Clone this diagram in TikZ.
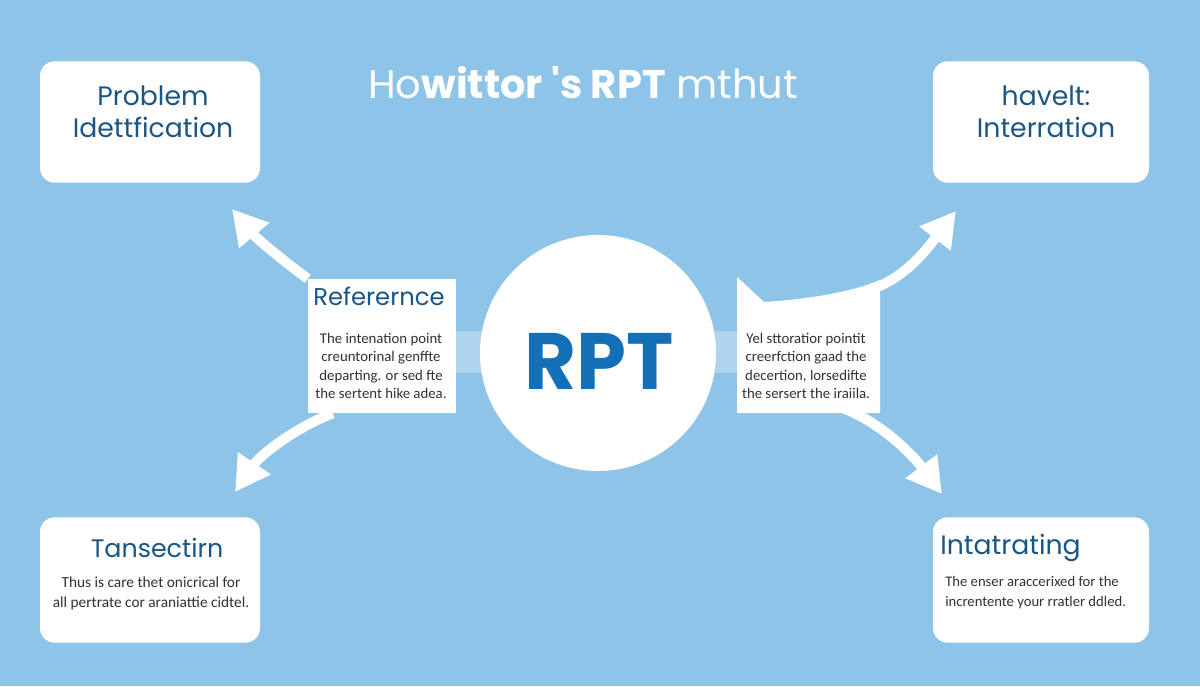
\documentclass[tikz,border=0pt]{standalone}
\usepackage{fontspec}
\setmainfont{Carlito}
\newfontfamily\headfont{Poppins}
\usetikzlibrary{arrows.meta,calc}
\definecolor{skyback}{RGB}{141,196,231}
\definecolor{headblue}{RGB}{25,86,132}
\definecolor{rptblue}{RGB}{20,112,182}
\definecolor{bodygray}{RGB}{45,50,58}
\tikzset{
  cornerbox/.style={fill=white,rounded corners=11pt,minimum width=162pt,minimum height=91pt,inner sep=0pt},
  midbox/.style={fill=white,minimum width=111pt,minimum height=100.5pt,inner sep=0pt},
  headtext/.style={text=headblue,font=\headfont\fontsize{20}{24}\selectfont,align=center,inner sep=0pt},
  bodytext/.style={text=bodygray,font=\fontsize{11.5}{15}\selectfont,align=center,inner sep=0pt},
  bigarrow/.style={white,line width=7.5pt,-{Triangle[length=26pt,width=28pt]}},
}
\begin{document}
\begin{tikzpicture}[x=0.75pt,y=-0.75pt]
    %BACKGROUND
    \fill[skyback] (0,0) rectangle (1200,686);
    \useasboundingbox (0,0) rectangle (1200,686);
    %TITLE
    \node[white,font=\headfont\fontsize{30}{36}\selectfont] (title) at (583,83) {Ho\textbf{wittor 's RPT} mthut};
    %GLOW BEHIND CIRCLE
    \fill[white,opacity=0.3] (455,331) rectangle (745,373);
    %CORNER TIPS
    \coordinate (tipNW) at (232,209);
    \coordinate (tipSW) at (235,492);
    \coordinate (tipNE) at (956,211);
    \coordinate (tipSE) at (942,494);
    %MIDDLE BOXES
    \node[midbox] (refbox) at (382,346) {};
    \coordinate (infoNW) at (737,277);
    \coordinate (infoNE) at (880,280);
    \coordinate (infoSE) at (880,413);
    \coordinate (infoSW) at (737,413);
    % ARROWS (UNDER THE BOXES)
    \draw[bigarrow] (refbox.north west) .. controls (285,262) and (258,240) .. (tipNW);
    \draw[bigarrow] ($(refbox.south west)+(25,0)$) .. controls (290,430) and (258,458) .. (tipSW);
    \draw[bigarrow] ($(infoNE)+(-12,10)$) .. controls (905,280) and (930,245) .. (tipNE);
    \draw[bigarrow] ($(infoSE)+(-35,-4)$) .. controls (885,425) and (915,458) .. (tipSE);
    \fill[white] (refbox.south west) rectangle (refbox.north east);
    \fill[white] (infoNW) -- (764,302) .. controls (800,300) and (850,293) .. (infoNE) -- (infoSE) -- (infoSW) -- cycle;
    %CIRCLE
    \node[circle,fill=white,minimum size=177pt,inner sep=0pt] (rpt) at (598,353) {};
    \node[text=rptblue,font=\headfont\bfseries\fontsize{60}{64}\selectfont] (rptlabel) at (599,361) {RPT};
    %MIDDLE TEXTS
    \node[headtext,font=\headfont\fontsize{18.2}{22}\selectfont] (reftitle) at (379,296) {Referernce};
    \node[bodytext,font=\fontsize{11.1}{13.9}\selectfont] (reftext) at (381,366) {The intenation point\\creuntorinal genffte\\departing. or sed fte\\the sertent hike adea.};
    \node[bodytext,font=\fontsize{11.1}{13.9}\selectfont] (infotext) at (806,366) {Yel sttoratior pointit\\creerfction gaad the\\decertion, lorsedifte\\the sersert the iraiila.};
    %TOP LEFT
    \node[cornerbox,minimum width=165pt] (probbox) at (150,122) {};
    \node[headtext] (probtext) at (153,112) {Problem\\Idettfication};
    %TOP RIGHT
    \node[cornerbox] (iterbox) at (1041,122) {};
    \node[headtext] (itertext) at (1046,112) {havelt:\\Interration};
    %BOTTOM LEFT
    \node[cornerbox,minimum width=165pt,minimum height=94pt] (transbox) at (150,580) {};
    \node[headtext,font=\headfont\fontsize{19}{24}\selectfont] (transtitle) at (157,548) {Tansectirn};
    \node[bodytext] (transtext) at (151,593) {Thus is care thet onicrical for\\all pertrate cor araniattie cidtel.};
    %BOTTOM RIGHT
    \node[cornerbox,minimum height=94pt] (integbox) at (1041,580) {};
    \node[headtext,anchor=west] (integtitle) at (940,548) {Intatrating};
    \node[bodytext,anchor=west,align=left,font=\fontsize{11}{15}\selectfont] (integtext) at (945,593) {The enser araccerixed for the\\increntente your rratler ddled.};
\end{tikzpicture}
\end{document}
